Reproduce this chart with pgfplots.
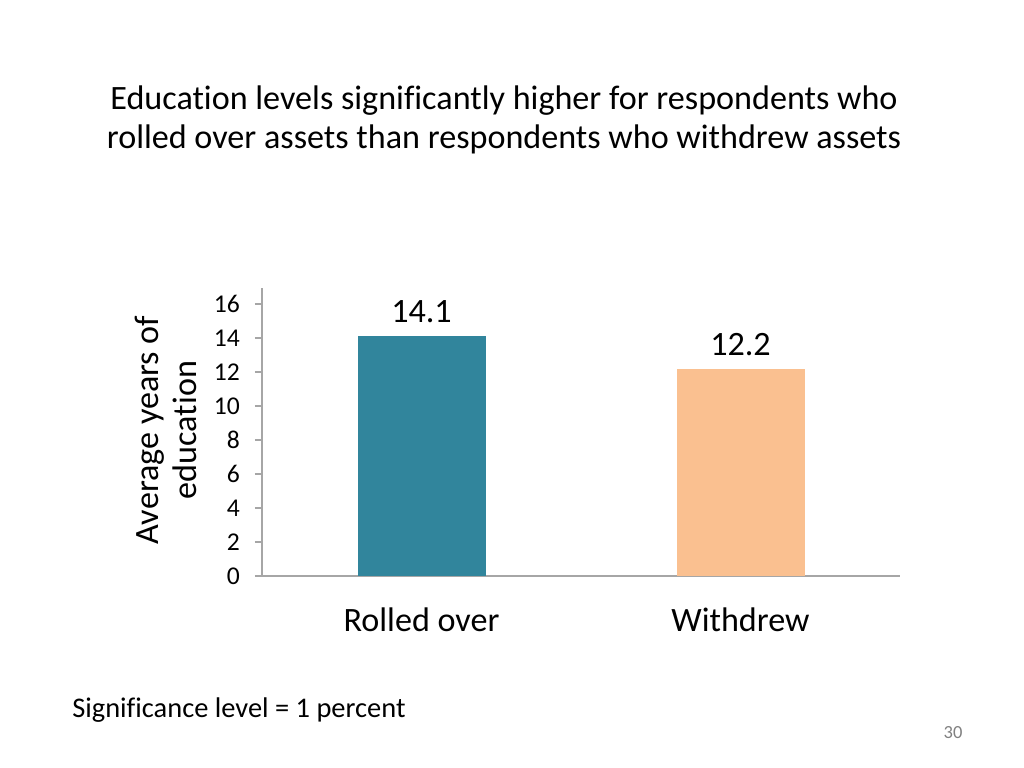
\documentclass[border=0pt]{standalone}
\usepackage{pgfplots}
\pgfplotsset{compat=1.18}
\usepackage{fontspec}
\setmainfont{Carlito}[Ligatures=NoCommon]
\definecolor{teal1}{HTML}{31859C}
\definecolor{peach}{HTML}{FAC090}
\definecolor{axgray}{HTML}{A6A6A6}
\begin{document}
\begin{tikzpicture}[x=0.703125pt,y=0.703125pt]
\path[fill=white] (0,0) rectangle (1024,768);
\node[align=center, font=\fontsize{24}{28}\selectfont] at (504,648) {Education levels significantly higher for respondents who\\rolled over assets than respondents who withdrew assets};
\begin{axis}[
  at={(184.22pt,135pt)}, anchor=south west,
  scale only axis, width=448.6pt, height=202.5pt,
  xmin=0, xmax=2, ymin=0, ymax=16.94,
  axis lines*=left,
  axis line style={axgray, line width=0.8pt},
  every outer x axis line/.append style={-},
  every outer y axis line/.append style={-},
  ytick={0,2,...,16},
  xtick={0.5,1.5},
  xticklabels={Rolled over, Withdrew},
  major tick length=5pt,
  tick align=outside,
  x tick style={draw=none},
  y tick style={axgray, line width=0.8pt},
  tick label style={font=\fontsize{18}{20}\selectfont},
  x tick label style={font=\fontsize{24}{28}\selectfont, yshift=-13.5pt},
  /pgf/number format/assume math mode=true,
  yticklabel style={xshift=-7pt},
  bar width=90pt,
  nodes near coords,
  nodes near coords style={font=\fontsize{24}{28}\selectfont, anchor=center, yshift=17pt},
]
\addplot[ybar, fill=teal1, draw=none] coordinates {(0.5,14.1)};
\addplot[ybar, fill=peach, draw=none] coordinates {(1.5,12.2)};
\end{axis}
\node[rotate=90, align=center, font=\fontsize{24}{27}\selectfont] at (166,338) {Average years of\\education};
\node[anchor=west, inner sep=0pt, font=\fontsize{20}{24}\selectfont] at (72,58) {Significance level = 1 percent};
\node[font=\fontsize{13}{15}\selectfont, text=gray] at (953,35) {30};
\end{tikzpicture}
\end{document}
